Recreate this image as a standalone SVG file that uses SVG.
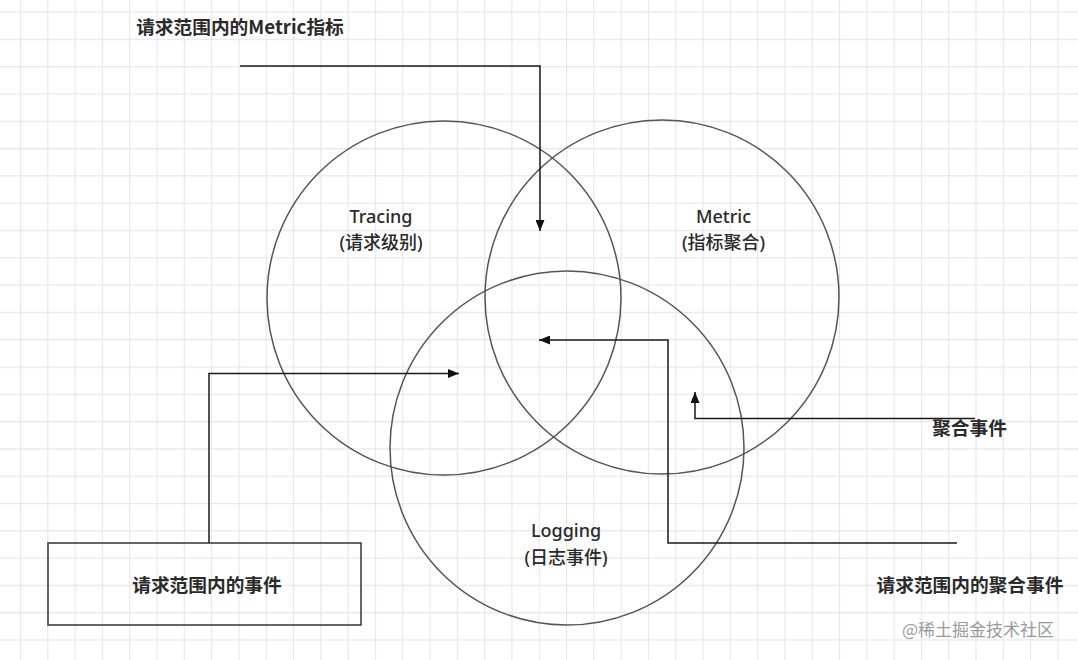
<svg xmlns="http://www.w3.org/2000/svg" width="1078" height="660" viewBox="0 0 1078 660">
  <defs>
    <pattern id="grid" x="20" y="11.5" width="27.3" height="27.3" patternUnits="userSpaceOnUse">
      <path d="M0.5,0 V27.3 M0,0.5 H27.3" fill="none" stroke="#e6e6e6" stroke-width="1.2"/>
    </pattern>
    <marker id="arrow" viewBox="0 0 11 9" refX="11" refY="4.5" markerWidth="11" markerHeight="9" markerUnits="userSpaceOnUse" orient="auto">
      <path d="M0,0 L11,4.5 L0,9 Z" fill="#111"/>
    </marker>
    <style>
      .circle { fill: none; stroke: #555; stroke-width: 1.5; }
      .box { fill: none; stroke: #333; stroke-width: 1.5; }
      .conn { fill: none; stroke: #1a1a1a; stroke-width: 1.5; marker-end: url(#arrow); }
      .t { font-family: "Noto Sans", "Noto Sans CJK SC", sans-serif; font-size: 18px; font-weight: 500; fill: #2a2a2a; text-anchor: middle; }
      .lbl { font-family: "Noto Sans CJK SC", "Noto Sans", sans-serif; font-size: 18.7px; font-weight: bold; fill: #2a2a2a; text-anchor: middle; }
      .wm { font-family: "Noto Sans CJK SC", sans-serif; font-size: 17px; fill: #9a9a9a; text-anchor: middle; }
    </style>
  </defs>
  <rect width="1078" height="660" fill="#ffffff"/>
  <rect width="1078" height="660" fill="url(#grid)"/>

  <g id="tracing">
    <circle class="circle" cx="444" cy="298" r="177"/>
    <text class="t" x="381" y="223">Tracing</text>
    <text class="t" x="381" y="249">(请求级别)</text>
  </g>
  <g id="metric">
    <circle class="circle" cx="662" cy="297" r="177"/>
    <text class="t" x="723.5" y="223">Metric</text>
    <text class="t" x="723.5" y="249">(指标聚合)</text>
  </g>
  <g id="logging">
    <circle class="circle" cx="567" cy="448" r="177"/>
    <text class="t" x="566" y="537">Logging</text>
    <text class="t" x="566" y="564">(日志事件)</text>
  </g>
  <g id="request-events">
    <rect class="box" x="48" y="543" width="313" height="82"/>
    <text class="lbl" x="207" y="592">请求范围内的事件</text>
  </g>
  <g id="request-metric">
    <text class="lbl" x="240" y="34">请求范围内的Metric指标</text>
  </g>
  <g id="aggregate-events">
    <text class="lbl" x="969.5" y="435">聚合事件</text>
  </g>
  <g id="request-aggregate-events">
    <text class="lbl" x="970" y="592">请求范围内的聚合事件</text>
  </g>

  <g id="connectors">
    <path class="conn" d="M240,66 H540 V231"/>
    <path class="conn" d="M209,543 V373.5 H459"/>
    <path class="conn" d="M957,543 H668 V340 H539"/>
    <path class="conn" d="M975,418.5 H695 V392"/>
  </g>

  <text class="wm" x="978" y="636">@稀土掘金技术社区</text>
</svg>
